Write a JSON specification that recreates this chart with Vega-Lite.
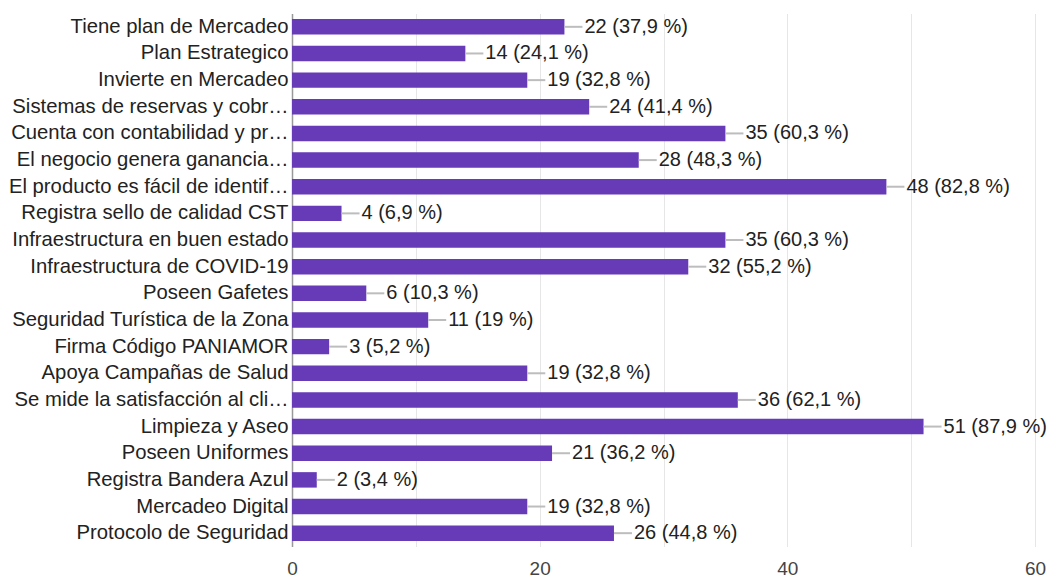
{
  "$schema": "https://vega.github.io/schema/vega-lite/v6.json",
  "width": 743,
  "height": 533,
  "autosize": {"type": "none"},
  "padding": {"left": 292, "top": 13.5, "right": 13, "bottom": 31.5},
  "background": "white",
  "config": {
    "view": {"stroke": null},
    "font": "Liberation Sans"
  },
  "data": {
    "values": [
      {"item": "Tiene plan de Mercadeo", "count": 22, "label": "22 (37,9 %)"},
      {"item": "Plan Estrategico", "count": 14, "label": "14 (24,1 %)"},
      {"item": "Invierte en Mercadeo", "count": 19, "label": "19 (32,8 %)"},
      {"item": "Sistemas de reservas y cobr…", "count": 24, "label": "24 (41,4 %)"},
      {"item": "Cuenta con contabilidad y pr…", "count": 35, "label": "35 (60,3 %)"},
      {"item": "El negocio genera ganancia…", "count": 28, "label": "28 (48,3 %)"},
      {"item": "El producto es fácil de identif…", "count": 48, "label": "48 (82,8 %)"},
      {"item": "Registra sello de calidad CST", "count": 4, "label": "4 (6,9 %)"},
      {"item": "Infraestructura en buen estado", "count": 35, "label": "35 (60,3 %)"},
      {"item": "Infraestructura de COVID-19", "count": 32, "label": "32 (55,2 %)"},
      {"item": "Poseen Gafetes", "count": 6, "label": "6 (10,3 %)"},
      {"item": "Seguridad Turística de la Zona", "count": 11, "label": "11 (19 %)"},
      {"item": "Firma Código PANIAMOR", "count": 3, "label": "3 (5,2 %)"},
      {"item": "Apoya Campañas de Salud", "count": 19, "label": "19 (32,8 %)"},
      {"item": "Se mide la satisfacción al cli…", "count": 36, "label": "36 (62,1 %)"},
      {"item": "Limpieza y Aseo", "count": 51, "label": "51 (87,9 %)"},
      {"item": "Poseen Uniformes", "count": 21, "label": "21 (36,2 %)"},
      {"item": "Registra Bandera Azul", "count": 2, "label": "2 (3,4 %)"},
      {"item": "Mercadeo Digital", "count": 19, "label": "19 (32,8 %)"},
      {"item": "Protocolo de Seguridad", "count": 26, "label": "26 (44,8 %)"}
    ]
  },
  "encoding": {
    "y": {
      "field": "item",
      "type": "nominal",
      "sort": null,
      "title": null,
      "scale": {"paddingInner": 0.42, "paddingOuter": 0.21},
      "axis": {
        "ticks": false,
        "labelFontSize": 20.3,
        "labelColor": "#222222",
        "labelPadding": 4,
        "labelLimit": 400,
        "domainColor": "#999999",
        "domainWidth": 1.5,
        "grid": false
      }
    }
  },
  "layer": [
    {
      "mark": {"type": "bar", "color": "#673ab7"},
      "encoding": {
        "x": {
          "field": "count",
          "type": "quantitative",
          "title": null,
          "scale": {"domain": [0, 60], "nice": false},
          "axis": {
            "values": [0, 10, 20, 30, 40, 50, 60],
            "labelExpr": "datum.value % 20 == 0 ? datum.label : ''",
            "ticks": false,
            "domain": false,
            "grid": true,
            "gridColor": "#e6e6e6",
            "gridWidth": 1,
            "labelFontSize": 19,
            "labelColor": "#444444",
            "labelPadding": 13,
            "labelFlush": false,
            "labelOverlap": false
          }
        }
      }
    },
    {
      "mark": {"type": "rule", "color": "#bdbdbd", "strokeWidth": 2, "x2Offset": 18},
      "encoding": {
        "x": {"field": "count", "type": "quantitative"},
        "x2": {"field": "count"}
      }
    },
    {
      "mark": {"type": "text", "align": "left", "baseline": "middle", "dx": 20, "fontSize": 20, "color": "#222222"},
      "encoding": {
        "x": {"field": "count", "type": "quantitative"},
        "text": {"field": "label"}
      }
    }
  ]
}
